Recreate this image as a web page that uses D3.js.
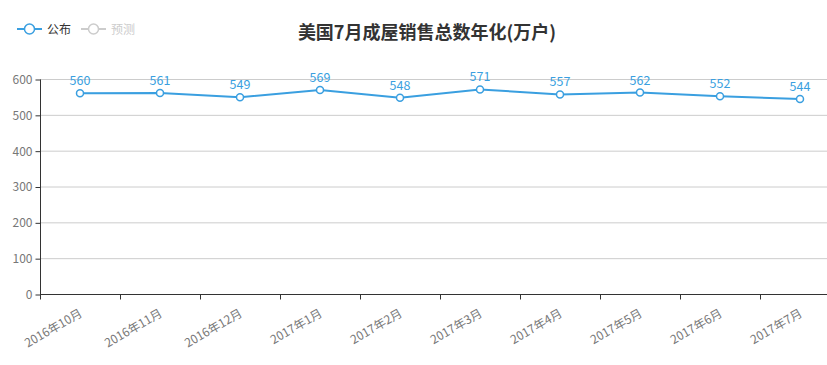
<!DOCTYPE html>
<html>
<head>
<meta charset="utf-8"/>
<title>美国7月成屋销售总数年化</title>
<script src="https://cdn.jsdelivr.net/npm/d3@7"></script>
<style>
  body { margin: 0; background: #fff; }
  svg text { font-family: "Noto Sans CJK SC", "Noto Sans", sans-serif; }
</style>
</head>
<body>
<div id="chart"></div>
<script>
// data
var months = ["2016年10月", "2016年11月", "2016年12月", "2017年1月", "2017年2月",
              "2017年3月", "2017年4月", "2017年5月", "2017年6月", "2017年7月"];
var published = [560, 561, 549, 569, 548, 571, 557, 562, 552, 544];
var yTicks = [0, 100, 200, 300, 400, 500, 600];
var legendNames = ["公布", "预测"];

var W = 827, H = 365;
var padLeft = 40, padRight = 840, padTop = 79, padBottom = 294;
var blue = "#3a9fe0";

var svg = d3.select("#chart").append("svg").attr("width", W).attr("height", H);

var x = d3.scaleBand().domain(months).range([padLeft, padRight]);
var y = d3.scaleLinear().domain([0, 600]).range([padBottom, padTop]);

// grid
svg.append("g").selectAll("line").data(yTicks.filter(function(d) { return d > 0; }))
  .enter().append("line")
  .attr("x1", padLeft).attr("x2", padRight)
  .attr("y1", function(d) { return y(d) + 0.5; }).attr("y2", function(d) { return y(d) + 0.5; })
  .attr("stroke", "#ccc").attr("stroke-width", 1);

// y axis
var ya = svg.append("g").attr("transform", "translate(" + (padLeft + 0.5) + ",0.5)")
  .call(d3.axisLeft(y).tickValues(yTicks).tickSize(5).tickPadding(3));
ya.select(".domain").attr("stroke", "#333").attr("d", "M0," + y(600) + "V" + y(0));
ya.selectAll(".tick line").attr("stroke", "#333");
ya.selectAll("text").attr("fill", "#777").style("font-size", "12px");

// x axis: ticks on band boundaries
var xa = svg.append("g").attr("transform", "translate(0," + (padBottom + 0.5) + ")");
xa.append("line").attr("x1", padLeft).attr("x2", padRight).attr("stroke", "#333");
xa.selectAll(".tk").data(months.concat(["end"])).enter().append("line")
  .attr("x1", function(d, i) { return padLeft + i * x.step() + 0.5; })
  .attr("x2", function(d, i) { return padLeft + i * x.step() + 0.5; })
  .attr("y1", 0).attr("y2", 5).attr("stroke", "#333");
xa.selectAll("text").data(months).enter().append("text")
  .attr("transform", function(d) {
    return "translate(" + (x(d) + x.bandwidth() / 2 - 1) + ",14) rotate(-30)";
  })
  .attr("text-anchor", "end").attr("dy", "0.7em")
  .attr("fill", "#777").style("font-size", "12px")
  .text(function(d) { return d; });

// line
var cx = function(d, i) { return x(months[i]) + x.bandwidth() / 2; };
svg.append("path").datum(published)
  .attr("d", d3.line().x(cx).y(function(d) { return y(d); }))
  .attr("fill", "none").attr("stroke", blue).attr("stroke-width", 2);

svg.selectAll(".pt").data(published).enter().append("circle")
  .attr("cx", cx).attr("cy", function(d) { return y(d); }).attr("r", 3.5)
  .attr("fill", "#fff").attr("stroke", blue).attr("stroke-width", 1.5);

svg.selectAll(".lbl").data(published).enter().append("text")
  .attr("x", cx).attr("y", function(d) { return y(d) - 8; })
  .attr("text-anchor", "middle").attr("fill", blue).style("font-size", "12.5px")
  .text(function(d) { return d; });

// title
svg.append("text").attr("x", 427).attr("y", 39).attr("text-anchor", "middle")
  .attr("fill", "#333").style("font-size", "18px").style("font-weight", "bold")
  .text("美国7月成屋销售总数年化(万户)");

// legend
var lg = svg.append("g").selectAll("g").data(legendNames).enter().append("g")
  .attr("transform", function(d, i) { return "translate(" + (17 + i * 64) + ",29)"; });
lg.append("line").attr("x1", 0).attr("x2", 25).attr("stroke", function(d, i) { return i ? "#ccc" : blue; }).attr("stroke-width", 2);
lg.append("circle").attr("cx", 12.5).attr("r", 5).attr("fill", "#fff")
  .attr("stroke", function(d, i) { return i ? "#ccc" : blue; }).attr("stroke-width", 1.5);
lg.append("text").attr("x", 30).attr("y", 4.5).style("font-size", "12px")
  .attr("fill", function(d, i) { return i ? "#ccc" : "#333"; })
  .text(function(d) { return d; });
</script>
</body>
</html>
